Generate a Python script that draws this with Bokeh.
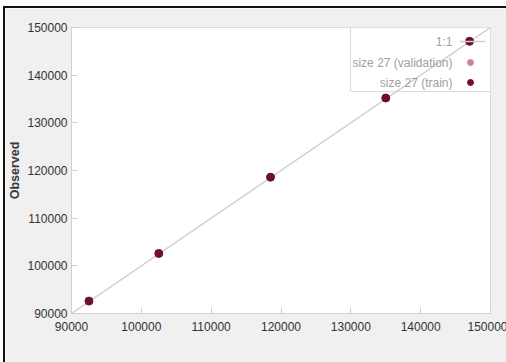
from bokeh.plotting import figure
from bokeh.models import Range1d, FixedTicker, BasicTickFormatter, Label
from bokeh.embed import file_html
from bokeh.resources import INLINE

# Predicted vs observed values (train set, size 27)
predicted = [92500, 102500, 118500, 135000, 147000]
observed = [92600, 102600, 118600, 135200, 147100]

axis_ticks = [90000, 100000, 110000, 120000, 130000, 140000, 150000]
legend_labels = ["1:1", "size 27 (validation)", "size 27 (train)"]

TRAIN_COLOR = "#6e1026"
VALID_COLOR = "#d7808f"
LINE_COLOR = "#cfcfcf"
FONT = "Liberation Sans"

LEFT, RIGHT, TOP, BOTTOM = 64, 17, 19, 49
FW, FH = 419, 286

p = figure(output_backend="svg", toolbar_location=None,
           x_range=Range1d(90000, 150000), y_range=Range1d(90000, 150000),
           frame_width=FW, frame_height=FH,
           min_border_left=LEFT, min_border_right=RIGHT,
           min_border_top=TOP, min_border_bottom=BOTTOM,
           background_fill_color="white", border_fill_color="#f0f0f0",
           outline_line_color="#dadada", y_axis_label="Observed")
p.margin = (6, 0, 0, 3)
p.styles = {"border-top": "2px solid #111", "border-left": "2px solid #111"}

# pixel-space ranges over the frame, used for the legend block
p.extra_x_ranges = {"px": Range1d(0, FW)}
p.extra_y_ranges = {"px": Range1d(0, FH)}

p.xgrid.visible = False
p.ygrid.visible = False
for ax in (p.xaxis[0], p.yaxis[0]):
    ax.ticker = FixedTicker(ticks=axis_ticks)
    ax.formatter = BasicTickFormatter(use_scientific=False)
    ax.axis_line_color = "#d0d0d0"
    ax.major_tick_line_color = "#d0d0d0"
    ax.major_tick_in = 6
    ax.major_tick_out = 0
    ax.minor_tick_line_color = None
    ax.major_label_text_font = FONT
    ax.major_label_text_font_size = "12px"
    ax.major_label_text_color = "#333333"
p.xaxis.major_label_standoff = 8
p.yaxis.major_label_standoff = 4
p.yaxis.axis_label_text_font = FONT
p.yaxis.axis_label_text_font_style = "bold"
p.yaxis.axis_label_text_font_size = "12.5px"
p.yaxis.axis_label_text_color = "#3a3a3a"
p.yaxis.axis_label_standoff = 2

# legend box in the top-right corner
p.quad(left=[FW - 140], right=[FW], bottom=[FH - 64], top=[FH],
       x_range_name="px", y_range_name="px",
       fill_color="white", line_color="#dadada", line_width=1)

# 1:1 reference line
p.line(x=[axis_ticks[0], axis_ticks[-1]], y=[axis_ticks[0], axis_ticks[-1]],
       line_color=LINE_COLOR, line_width=1.5)

# train points
p.scatter(x=predicted, y=observed, size=8, fill_color=TRAIN_COLOR,
          line_color=TRAIN_COLOR)

# legend entries (label right-aligned, key to the right)
rows = [FH - 14, FH - 35, FH - 55]
text_x = FW - 38
key_x = FW - 20
for lab, ry in zip(legend_labels, rows):
    p.add_layout(Label(x=text_x, y=ry, x_range_name="px", y_range_name="px",
                       text=lab, text_align="right", text_baseline="middle",
                       text_font=FONT, text_font_size="12px",
                       text_color="#a0a0a0"))
p.segment(x0=[FW - 31], x1=[FW - 5], y0=[rows[0]], y1=[rows[0]],
          x_range_name="px", y_range_name="px",
          line_color=LINE_COLOR, line_width=1.5)
p.scatter(x=[key_x], y=[rows[1]], x_range_name="px", y_range_name="px",
          size=6, fill_color=VALID_COLOR, line_color=VALID_COLOR)
p.scatter(x=[key_x], y=[rows[2]], x_range_name="px", y_range_name="px",
          size=6, fill_color=TRAIN_COLOR, line_color=TRAIN_COLOR)

# x axis title, centred under the whole panel
p.add_layout(Label(x=188, y=-39, x_range_name="px", y_range_name="px",
                   text="Predicted", text_align="center",
                   text_baseline="middle", text_font=FONT,
                   text_font_size="12px", text_color="#333333"))

open("out.html", "w").write(file_html(p, INLINE))
